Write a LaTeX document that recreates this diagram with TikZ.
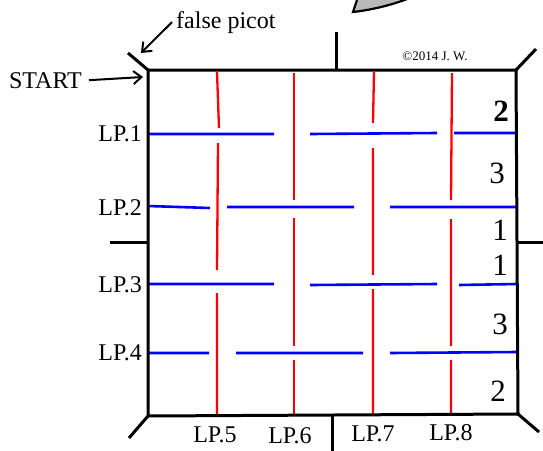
\documentclass[tikz,border=0pt]{standalone}
\usepackage{fontspec}
\setmainfont{Liberation Serif}
\usetikzlibrary{arrows.meta}

\begin{document}
\begin{tikzpicture}[x=1pt,y=-1pt,
    frame/.style={line width=3pt},
    warp/.style={red, line width=2.3pt},
    weft/.style={blue, line width=2.6pt},
    lbl/.style={font=\fontsize{24}{27}\selectfont, inner sep=0pt},
    num/.style={font=\fontsize{31}{34}\selectfont, inner sep=0pt},
    pointer/.style={line width=2pt, -{Straight Barb[length=8pt, width=13pt, line width=2pt]}}]
    \useasboundingbox (0,0) rectangle (543,450);

    % Hilos rojos
    \draw[warp] (217,72) -- (219,128) (218,143) -- (217,270) (217,293) -- (217,415);
    \draw[warp] (294,73) -- (294,200) (294,218) -- (294,346) (294,360) -- (294,415);
    \draw[warp] (374,72) -- (373,123) (373,148) -- (373,275) (373,289) -- (373,414);
    \draw[warp] (452,73) -- (451,200) (451,219) -- (451,346) (451,360) -- (451,413);

    % Hilos azules
    \draw[weft] (148,134) -- (274,134) (310,134) -- (437,133) (454,133) -- (515,133);
    \draw[weft] (148,206) -- (210,208) (227,207) -- (354,207) (390,207) -- (516,207);
    \draw[weft] (148,284) -- (274,284) (310,285) -- (437,284) (459,285) -- (517,284);
    \draw[weft] (148,353) -- (209,353) (236,353) -- (363,353) (390,353) -- (517,352);

    % Marco
    \coordinate (tl) at (148,70);
    \coordinate (tr) at (516,70);
    \coordinate (br) at (518,414);
    \coordinate (bl) at (148,416);
    \draw[frame] (tl) -- (tr) -- (br) -- (bl) -- cycle;
    \draw[frame] (tl) -- (128,53);
    \draw[frame] (tr) -- (536,49);
    \draw[frame] (bl) -- (129,438);
    \draw[frame] (br) -- (539,432);
    \draw[frame] (336,70) -- (336,32);
    \draw[frame] (332,416) -- (332,452);
    \draw[frame] (148,242) -- (110,242);
    \draw[frame] (517,242) -- (546,242);

    % Forma gris
    \draw[fill=gray!55, line width=2.2pt] (358,-3) -- (353,12) .. controls (372,10) and (396,4) .. (412,-3);

    % Textos
    \node[lbl, anchor=base east] (start) at (82,88) {START};
    \node[lbl, anchor=base west] (picot) at (176,28) {false picot};
    \coordinate (starttip) at (143,77);
    \coordinate (picottip) at (141,53);
    \draw[pointer] ([xshift=7pt]start.east) -- (starttip);
    \draw[pointer] ([xshift=-4pt]picot.west) -- (picottip);
    \node[font=\fontsize{13}{14}\selectfont, inner sep=0pt] (copy) at (435,56) {\textcopyright 2014 J. W.};

    \node[lbl, anchor=base east] (lp1) at (142,141) {LP.1};
    \node[lbl, anchor=base east] (lp2) at (142,215) {LP.2};
    \node[lbl, anchor=base east] (lp3) at (142,292) {LP.3};
    \node[lbl, anchor=base east] (lp4) at (142,360) {LP.4};
    \node[lbl, anchor=base] (lp5) at (215,442) {LP.5};
    \node[lbl, anchor=base] (lp6) at (290,443) {LP.6};
    \node[lbl, anchor=base] (lp7) at (373,441) {LP.7};
    \node[lbl, anchor=base] (lp8) at (451,440) {LP.8};

    % Cuentas
    \node[num, font=\fontsize{31}{34}\selectfont\bfseries] (n1) at (501,111) {2};
    \node[num] (n2) at (497,173) {3};
    \node[num] (n3) at (500,230) {1};
    \node[num] (n4) at (500,265) {1};
    \node[num] (n5) at (500,324) {3};
    \node[num] (n6) at (498,391) {2};
\end{tikzpicture}
\end{document}
